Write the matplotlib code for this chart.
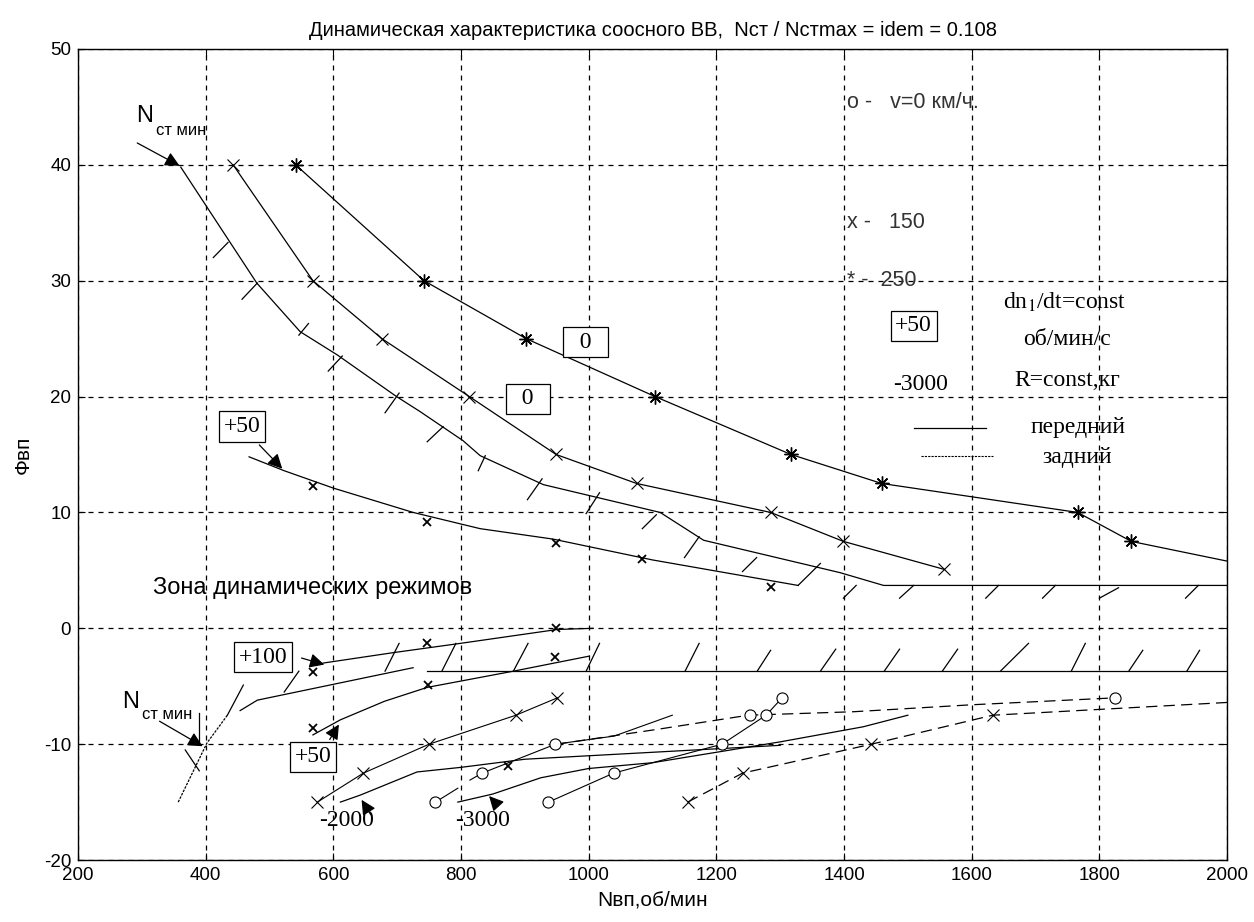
import numpy as np
import matplotlib
matplotlib.use('Agg')
import matplotlib.pyplot as plt

SANS = 'Liberation Sans'
SERIF = 'Liberation Serif'
plt.rcParams['font.family'] = [SANS, 'DejaVu Sans']
plt.rcParams['axes.unicode_minus'] = False
plt.rcParams['mathtext.fontset'] = 'stix'

title = 'Динамическая характеристика соосного ВВ,  Nст / Nстmax = idem = 0.108'
xticks = [200, 400, 600, 800, 1000, 1200, 1400, 1600, 1800, 2000]
yticks = [-20, -10, 0, 10, 20, 30, 40, 50]

# upper family, v = 250 (*), 150 (x), Nст мин (hatched boundary)
a_x = [541, 742, 902, 1104, 1317, 1459, 1766, 1850, 2000]
a_y = [40, 30, 25, 20, 15, 12.5, 10, 7.5, 5.8]
b_x = [443, 568, 676, 813, 949, 1075, 1285, 1399, 1556]
b_y = [40, 30, 25, 20, 15, 12.5, 10, 7.5, 5.1]
c_x = [361, 480, 548, 606, 699, 736, 803, 830, 929, 1112, 1180, 1394, 1462, 2000]
c_y = [39.8, 29.8, 25.6, 23.6, 20.0, 18.7, 16.2, 14.9, 12.4, 10.0, 7.6, 4.8, 3.7, 3.7]
d_x = [468, 523, 600, 725, 830, 944, 1100, 1328]
d_y = [14.8, 13.6, 12.1, 10.0, 8.6, 7.7, 5.9, 3.7]
d_mx = [568, 747, 949, 1084, 1285]
d_my = [12.3, 9.15, 7.4, 6.0, 3.6]

# lower band
p100_x = [584, 694, 799, 951, 1007]
p100_y = [-3.0, -2.1, -1.3, -0.1, 0.0]
low_x = [454, 481, 725]
low_y = [-7.1, -6.2, -3.4]
floor_x = [747, 2000]
floor_y = [-3.7, -3.7]
p50_x = [568, 611, 680, 747, 882, 1001]
p50_y = [-9.2, -7.9, -6.3, -5.1, -3.7, -2.4]
let_x = [568, 747, 949, 568, 749, 948, 874]
let_y = [-3.8, -1.3, 0.0, -8.6, -4.9, -2.5, -11.9]
nmin_x = [357, 402, 434]
nmin_y = [-15.0, -9.9, -7.5]

# lower curves
xl_x = [575, 647, 750, 886, 951]
xl_y = [-15, -12.5, -10, -7.5, -6]
m2000_x = [611, 642, 731, 800, 900, 1000, 1200, 1300]
m2000_y = [-15, -14.4, -12.4, -12.0, -11.3, -11.0, -10.4, -10.1]
m3000_x = [795, 850, 925, 1000, 1100, 1200, 1300, 1430, 1500]
m3000_y = [-15, -14.3, -12.9, -12.1, -11.6, -10.7, -9.8, -8.5, -7.5]
oa_x = [760, 795]
oa_y = [-15, -13.8]
ob_x = [814, 833, 948, 1040, 1131]
ob_y = [-13.1, -12.5, -10, -9.3, -7.5]
oc_x = [937, 1039, 1209, 1278, 1303]
oc_y = [-15, -12.5, -10, -7.5, -6]
r1_x = [950, 1110, 1250, 1415, 1600, 1825]
r1_y = [-10, -8.7, -7.5, -7.2, -6.6, -6.0]
r2_x = [1155, 1241, 1443, 1633, 2000]
r2_y = [-15, -12.5, -10, -7.5, -6.4]
circ_x = [760, 833, 948, 937, 1039, 1209, 1253, 1278, 1303, 1825]
circ_y = [-15, -12.5, -10, -15, -12.5, -10, -7.5, -7.5, -6, -6]
xr_x = [1155, 1241, 1443, 1633]
xr_y = [-15, -12.5, -10, -7.5]

# hatch strokes (x0, y0, x1, y1)
hatch_up = [(412, 32.0, 435, 33.3), (457, 28.4, 481, 29.8), (546, 25.3, 561, 26.3),
            (592, 22.2, 614, 23.5), (681, 18.6, 703, 20.3), (747, 16.1, 772, 17.4),
            (827, 13.6, 838, 14.9), (904, 11.1, 927, 12.9), (996, 9.9, 1017, 11.7),
            (1084, 8.6, 1106, 9.8), (1150, 6.1, 1173, 7.9), (1241, 4.9, 1263, 6.1),
            (1328, 3.7, 1363, 5.6), (1399, 2.6, 1419, 3.7), (1487, 2.6, 1509, 3.7),
            (1622, 2.6, 1642, 3.7), (1711, 2.6, 1731, 3.7), (1800, 2.6, 1830, 3.5),
            (1935, 2.6, 1955, 3.7)]
hatch_low = [(681, -3.7, 703, -1.3), (770, -3.7, 792, -1.3), (882, -3.7, 905, -1.3),
             (996, -3.7, 1017, -1.3), (1151, -3.7, 1173, -1.3), (1264, -3.7, 1285, -1.9),
             (1363, -3.7, 1387, -1.8), (1463, -3.7, 1487, -1.8), (1554, -3.7, 1578, -1.8),
             (1645, -3.7, 1689, -1.3), (1756, -3.7, 1778, -1.3), (1846, -3.7, 1868, -1.9),
             (1937, -3.7, 1957, -1.9), (434, -7.5, 459, -4.9), (523, -5.5, 546, -3.7),
             (368, -10.5, 390, -12.3), (390, -7.3, 390, -9.9)]

fig = plt.figure(figsize=(12.54, 9.22), dpi=100)
ax = fig.add_axes([0.0622, 0.0672, 0.9163, 0.8797])
ax.set_xlim(200, 2000)
ax.set_ylim(-20, 50)
ax.set_xticks(xticks)
ax.set_yticks(yticks)
ax.tick_params(direction='in', top=True, right=True, labelsize=13.5, length=5, pad=5)
ax.grid(True, color='k', linestyle=(0, (4, 4)), linewidth=0.9)
for s in ax.spines.values():
    s.set_linewidth(1.0)
ax.set_title(title, fontsize=14.5, pad=9)
ax.set_xlabel('Nвп,об/мин', fontsize=15, labelpad=5)
ax.set_ylabel('Фвп', fontsize=15, labelpad=8)

lw = 0.9
ax.plot(a_x, a_y, 'k-', lw=lw)
ax.plot(a_x[:-1], a_y[:-1], 'k', ls='none', marker=(8, 2, 0), ms=10, mew=1.0)
ax.plot(b_x, b_y, 'k-', lw=lw, marker='x', ms=8, mew=0.8)
ax.plot(c_x, c_y, 'k-', lw=lw)
ax.plot(d_x, d_y, 'k-', lw=lw)
ax.plot(d_mx, d_my, 'kx', ms=6, mew=1.3)

ax.plot(p100_x, p100_y, 'k-', lw=lw)
ax.plot(low_x, low_y, 'k-', lw=lw)
ax.plot(floor_x, floor_y, 'k-', lw=lw)
ax.plot(p50_x, p50_y, 'k-', lw=lw)
ax.plot(let_x, let_y, 'kx', ms=6, mew=1.3)
ax.plot(nmin_x, nmin_y, color='k', lw=lw, ls=(0, (2, 1)))

ax.plot(xl_x, xl_y, 'k-', lw=0.8, marker='x', ms=9, mew=0.8)
ax.plot(m2000_x, m2000_y, 'k-', lw=lw)
ax.plot(m3000_x, m3000_y, 'k-', lw=lw)
for xs, ys in [(oa_x, oa_y), (ob_x, ob_y), (oc_x, oc_y)]:
    ax.plot(xs, ys, 'k-', lw=0.8)
ax.plot(r1_x, r1_y, 'k', lw=lw, ls=(0, (9, 5)))
ax.plot(r2_x, r2_y, 'k', lw=lw, ls=(0, (9, 5)))
ax.plot(circ_x, circ_y, 'ko', mfc='white', ms=8, mew=0.8)
ax.plot(xr_x, xr_y, 'kx', ms=9, mew=0.8)

for x0, y0, x1, y1 in hatch_up + hatch_low:
    ax.plot([x0, x1], [y0, y1], 'k-', lw=lw)

arw = dict(arrowstyle='-|>', color='k', lw=0.9, mutation_scale=22)
ax.annotate('', xy=(363, 39.8), xytext=(289, 42.0), arrowprops=arw)
ax.annotate('', xy=(399, -10.3), xytext=(324, -7.9), arrowprops=arw)
ax.annotate('', xy=(523, 13.6), xytext=(481, 16.0), arrowprops=arw)
ax.annotate('', xy=(590, -3.2), xytext=(546, -2.5), arrowprops=arw)
ax.annotate('', xy=(611, -8.1), xytext=(592, -9.8), arrowprops=arw)
ax.annotate('', xy=(642, -14.6), xytext=(661, -16.3), arrowprops=arw)
ax.annotate('', xy=(841, -14.3), xytext=(861, -15.5), arrowprops=arw)

box = dict(boxstyle='square,pad=0.2', fc='white', ec='k', lw=0.9)
ser = dict(family=SERIF, fontsize=17)
ax.text(995, 24.7, '  0  ', ha='center', va='center', bbox=box, **ser)
ax.text(905, 19.8, '  0  ', ha='center', va='center', bbox=box, **ser)
ax.text(457, 17.4, '+50', ha='center', va='center', bbox=box, **ser)
ax.text(1509, 26.1, '+50', ha='center', va='center', bbox=box, **ser)
ax.text(490, -2.5, '+100', ha='center', va='center', bbox=box, **ser)
ax.text(568, -11.1, '+50', ha='center', va='center', bbox=box, **ser)
ax.text(620, -16.6, '-2000', ha='center', va='center', **ser)
ax.text(833, -16.6, '-3000', ha='center', va='center', **ser)
ax.text(1520, 21.0, '-3000', ha='center', va='center', **ser)
ax.text(1745, 28.1, r'dn$_\mathrm{1}$/dt=const', ha='center', va='center', **ser)
ax.text(1750, 24.9, 'об/мин/с', ha='center', va='center', **ser)
ax.text(1750, 21.4, 'R=const,кг', ha='center', va='center', **ser)
ax.text(1766, 17.3, 'передний', ha='center', va='center', **ser)
ax.text(1766, 14.7, 'задний', ha='center', va='center', **ser)
ax.plot([1509, 1622], [17.3, 17.3], 'k-', lw=lw)
ax.plot([1520, 1633], [14.85, 14.85], 'k', lw=0.8, ls=(0, (2, 1)))

leg = dict(ha='left', va='center', fontsize=15.5, color='#333333')
ax.text(1404, 45.4, 'o -   v=0 км/ч.', **leg)
ax.text(1404, 35.0, 'x -   150', **leg)
ax.text(1404, 30.05, '* -  250', **leg)
ax.text(317, 3.45, 'Зона динамических режимов', ha='left', va='center', fontsize=17)
ax.text(305, 44.2, 'N', ha='center', va='center', fontsize=17)
ax.text(361, 43.0, 'ст мин', ha='center', va='center', fontsize=12)
ax.text(283, -6.4, 'N', ha='center', va='center', fontsize=17)
ax.text(339, -7.4, 'ст мин', ha='center', va='center', fontsize=12)

fig.savefig('out.png', dpi=100)
